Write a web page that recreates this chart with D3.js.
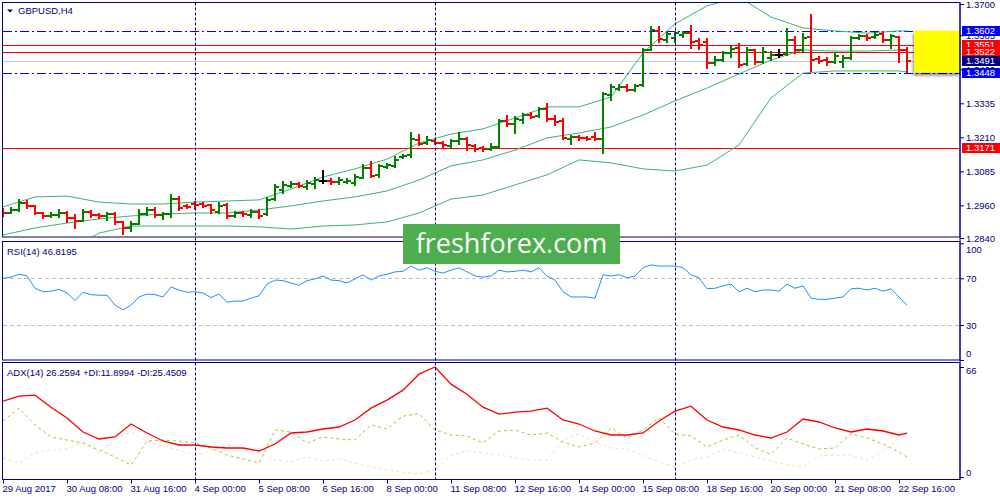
<!DOCTYPE html>
<html>
<head>
<meta charset="utf-8">
<script src="https://cdn.jsdelivr.net/npm/d3@7"></script>
<style>
  html, body { margin: 0; padding: 0; background: #fff; }
  svg { display: block; }
  text { font-family: Tahoma, 'Liberation Sans', Arial, sans-serif; font-size: 9.5px; fill: #000080; }
</style>
</head>
<body>
<div id="chart"></div>
<script>
// GBPUSD H4 chart - bars + Bollinger bands, RSI(14) and ADX(14) panels

// ---- data ----
const xLabels = ['29 Aug 2017', '30 Aug 08:00', '31 Aug 16:00', '4 Sep 00:00', '5 Sep 08:00',
  '6 Sep 16:00', '8 Sep 00:00', '11 Sep 08:00', '12 Sep 16:00', '14 Sep 00:00',
  '15 Sep 08:00', '18 Sep 16:00', '20 Sep 00:00', '21 Sep 08:00', '22 Sep 16:00'];
const xLabelIdx = [0, 8, 16, 24, 32, 40, 48, 56, 64, 72, 80, 88, 96, 104, 112];
const separatorIdx = [24, 54, 84]; // week starts

const opens = [1.2939, 1.2932, 1.2943, 1.2969, 1.2958, 1.2932, 1.2921, 1.2925, 1.2932, 1.2913,
  1.2903, 1.2936, 1.2925, 1.2921, 1.2928, 1.2899, 1.2877, 1.2892, 1.2928, 1.2943,
  1.2925, 1.2928, 1.2983, 1.2958, 1.2965, 1.2965, 1.2961, 1.2936, 1.2961, 1.2921,
  1.2932, 1.2925, 1.2936, 1.2928, 1.2983, 1.3016, 1.3031, 1.3039, 1.3027, 1.3039,
  1.3050, 1.3050, 1.3046, 1.3046, 1.3042, 1.3061, 1.3097, 1.3072, 1.3101, 1.3105,
  1.3138, 1.3145, 1.3200, 1.3189, 1.3197, 1.3189, 1.3178, 1.3197, 1.3204, 1.3178,
  1.3171, 1.3167, 1.3174, 1.3270, 1.3259, 1.3274, 1.3292, 1.3288, 1.3314, 1.3277,
  1.3270, 1.3204, 1.3211, 1.3208, 1.3211, 1.3204, 1.3366, 1.3388, 1.3395, 1.3384,
  1.3402, 1.3531, 1.3601, 1.3568, 1.3575, 1.3586, 1.3593, 1.3564, 1.3560, 1.3483,
  1.3494, 1.3520, 1.3538, 1.3480, 1.3531, 1.3487, 1.3502, 1.3513, 1.3516, 1.3568,
  1.3531, 1.3579, 1.3498, 1.3494, 1.3487, 1.3487, 1.3502, 1.3575, 1.3582, 1.3579,
  1.3590, 1.3568, 1.3579, 1.3531];
const highs = [1.2947, 1.2950, 1.2980, 1.2976, 1.2958, 1.2932, 1.2932, 1.2943, 1.2936, 1.2925,
  1.2943, 1.2939, 1.2928, 1.2932, 1.2932, 1.2899, 1.2899, 1.2943, 1.2950, 1.2950,
  1.2932, 1.2998, 1.2991, 1.2961, 1.2972, 1.2969, 1.2961, 1.2969, 1.2965, 1.2936,
  1.2936, 1.2943, 1.2943, 1.2987, 1.3035, 1.3046, 1.3046, 1.3042, 1.3050, 1.3061,
  1.3086, 1.3057, 1.3061, 1.3057, 1.3072, 1.3108, 1.3119, 1.3108, 1.3112, 1.3138,
  1.3145, 1.3226, 1.3219, 1.3211, 1.3200, 1.3193, 1.3200, 1.3226, 1.3208, 1.3182,
  1.3174, 1.3185, 1.3274, 1.3288, 1.3285, 1.3296, 1.3299, 1.3318, 1.3333, 1.3288,
  1.3277, 1.3215, 1.3215, 1.3211, 1.3226, 1.3373, 1.3402, 1.3402, 1.3402, 1.3402,
  1.3535, 1.3615, 1.3615, 1.3597, 1.3597, 1.3597, 1.3619, 1.3571, 1.3571, 1.3505,
  1.3524, 1.3542, 1.3553, 1.3538, 1.3531, 1.3538, 1.3524, 1.3531, 1.3608, 1.3579,
  1.3590, 1.3660, 1.3505, 1.3502, 1.3520, 1.3509, 1.3579, 1.3586, 1.3586, 1.3593,
  1.3597, 1.3586, 1.3579, 1.3538];
const lows = [1.2921, 1.2932, 1.2939, 1.2950, 1.2928, 1.2913, 1.2917, 1.2917, 1.2899, 1.2877,
  1.2903, 1.2917, 1.2913, 1.2906, 1.2892, 1.2855, 1.2866, 1.2892, 1.2925, 1.2917,
  1.2910, 1.2917, 1.2943, 1.2950, 1.2947, 1.2954, 1.2932, 1.2932, 1.2913, 1.2917,
  1.2921, 1.2917, 1.2913, 1.2925, 1.2980, 1.3005, 1.3027, 1.3027, 1.3020, 1.3024,
  1.3042, 1.3039, 1.3039, 1.3042, 1.3035, 1.3061, 1.3064, 1.3064, 1.3097, 1.3101,
  1.3134, 1.3138, 1.3182, 1.3185, 1.3185, 1.3171, 1.3171, 1.3185, 1.3163, 1.3160,
  1.3160, 1.3163, 1.3171, 1.3252, 1.3226, 1.3263, 1.3281, 1.3285, 1.3270, 1.3255,
  1.3204, 1.3185, 1.3200, 1.3200, 1.3200, 1.3152, 1.3347, 1.3384, 1.3380, 1.3380,
  1.3399, 1.3531, 1.3560, 1.3560, 1.3560, 1.3579, 1.3538, 1.3535, 1.3465, 1.3476,
  1.3491, 1.3505, 1.3468, 1.3476, 1.3480, 1.3483, 1.3494, 1.3505, 1.3513, 1.3520,
  1.3524, 1.3454, 1.3483, 1.3476, 1.3483, 1.3468, 1.3498, 1.3571, 1.3568, 1.3575,
  1.3560, 1.3538, 1.3487, 1.3450];
const closes = [1.2932, 1.2943, 1.2969, 1.2958, 1.2932, 1.2921, 1.2925, 1.2932, 1.2913, 1.2903,
  1.2936, 1.2925, 1.2921, 1.2928, 1.2899, 1.2877, 1.2892, 1.2928, 1.2943, 1.2925,
  1.2928, 1.2983, 1.2950, 1.2954, 1.2961, 1.2958, 1.2943, 1.2958, 1.2921, 1.2932,
  1.2928, 1.2936, 1.2921, 1.2980, 1.3027, 1.3035, 1.3039, 1.3031, 1.3042, 1.3053,
  1.3050, 1.3046, 1.3053, 1.3050, 1.3064, 1.3097, 1.3068, 1.3105, 1.3108, 1.3127,
  1.3141, 1.3204, 1.3185, 1.3200, 1.3189, 1.3182, 1.3197, 1.3204, 1.3182, 1.3167,
  1.3167, 1.3174, 1.3270, 1.3259, 1.3277, 1.3292, 1.3285, 1.3314, 1.3277, 1.3266,
  1.3208, 1.3211, 1.3208, 1.3204, 1.3204, 1.3369, 1.3395, 1.3395, 1.3384, 1.3399,
  1.3531, 1.3604, 1.3571, 1.3590, 1.3593, 1.3593, 1.3560, 1.3549, 1.3483, 1.3494,
  1.3520, 1.3535, 1.3476, 1.3531, 1.3487, 1.3524, 1.3513, 1.3513, 1.3568, 1.3531,
  1.3575, 1.3494, 1.3491, 1.3487, 1.3509, 1.3502, 1.3575, 1.3582, 1.3575, 1.3586,
  1.3568, 1.3582, 1.3531, 1.3491];

// Bollinger bands, read every 4th bar
const bbIdx = [0, 4, 8, 12, 16, 20, 24, 28, 32, 36, 40, 44, 48, 52, 56, 60, 64, 68, 72, 76,
  80, 84, 88, 92, 96, 100, 104, 108, 112, 113];
const bbUpper = [1.2954, 1.2991, 1.2994, 1.2972, 1.2965, 1.2965, 1.2972, 1.2976, 1.2980, 1.3020,
  1.3064, 1.3094, 1.3130, 1.3189, 1.3222, 1.3241, 1.3281, 1.3322, 1.3322, 1.3358,
  1.3520, 1.3627, 1.3693, 1.3726, 1.3652, 1.3612, 1.3601, 1.3593, 1.3601, 1.3601];
const bbMid = [1.2851, 1.2877, 1.2895, 1.2910, 1.2921, 1.2928, 1.2932, 1.2932, 1.2943, 1.2958,
  1.2976, 1.2991, 1.3013, 1.3053, 1.3105, 1.3127, 1.3163, 1.3208, 1.3226, 1.3248,
  1.3292, 1.3344, 1.3391, 1.3443, 1.3494, 1.3531, 1.3527, 1.3527, 1.3531, 1.3531];
const bbLower = [1.2748, 1.2756, 1.2796, 1.2858, 1.2884, 1.2884, 1.2884, 1.2884, 1.2881, 1.2873,
  1.2884, 1.2888, 1.2899, 1.2932, 1.2983, 1.2998, 1.3035, 1.3072, 1.3127, 1.3116,
  1.3094, 1.3086, 1.3108, 1.3182, 1.3355, 1.3446, 1.3454, 1.3454, 1.3454, 1.3450];

const rsiValues = [70, 71, 73.5, 72, 61.5, 58.5, 59, 60.5, 57.5, 51,
  58, 56, 55.5, 55.5, 47, 43, 47, 54, 56.5, 56,
  54, 62.5, 60, 58, 58.5, 57.5, 53.5, 56.5, 49.5, 50.5,
  50.5, 53, 55, 65, 68.5, 68, 66, 64, 68, 69.5,
  72, 68.5, 68, 66, 69.5, 73, 68.5, 72, 73.5, 75.5,
  76, 80.5, 77, 79, 76, 74.5, 77, 79, 75.5, 72,
  71, 72, 77, 75.5, 76, 77, 75.5, 79, 72, 68.5,
  58.5, 54, 54, 54, 53, 73, 72, 73, 70.5, 72,
  79, 81.5, 80.5, 80.5, 80.5, 79, 73, 70.5, 61, 61.5,
  63.5, 65, 58.5, 61.5, 58.5, 60, 60, 59, 65, 61.5,
  63.5, 53, 52, 52, 53, 54, 61, 61.5, 60, 61.5,
  59, 61, 54, 46.8195];

// ADX lines, read every 2nd bar
const adxIdx = [0, 2, 4, 6, 8, 10, 12, 14, 16, 18, 20, 22, 24, 26, 28, 30, 32, 34, 36, 38,
  40, 42, 44, 46, 48, 50, 52, 54, 56, 58, 60, 62, 64, 66, 68, 70, 72, 74, 76, 78,
  80, 82, 84, 86, 88, 90, 92, 94, 96, 98, 100, 102, 104, 106, 108, 110, 112, 113];
const adxMain = [45.5, 48.5, 49.1, 41.9, 35.4, 27.0, 22.8, 24.0, 31.8, 26.4,
  21.6, 19.2, 19.2, 18.0, 17.4, 17.4, 15.6, 19.8, 26.4, 27.0,
  28.8, 30.0, 34.2, 41.3, 46.1, 52.1, 61.7, 66.0, 55.7, 49.7,
  41.9, 37.7, 38.9, 39.5, 41.3, 34.2, 31.8, 27.6, 25.2, 25.2,
  26.4, 33.6, 39.5, 42.5, 34.2, 30.0, 28.2, 25.2, 23.4, 27.0,
  34.8, 33.0, 29.4, 27.0, 28.8, 27.6, 25.2, 26.2594];
const plusDi = [33.6, 41.3, 31.2, 24.0, 22.2, 20.4, 16.2, 12.0, 7.2, 21.6,
  22.2, 21.6, 20.4, 17.4, 13.2, 10.8, 8.4, 28.2, 27.0, 20.4,
  24.0, 22.8, 22.2, 31.2, 28.8, 36.5, 38.0, 28.2, 25.2, 24.6,
  20.4, 27.6, 28.2, 25.2, 26.4, 21.0, 18.0, 20.4, 29.4, 23.4,
  28.2, 35.4, 25.8, 24.6, 18.0, 22.2, 25.2, 17.4, 13.8, 23.4,
  19.8, 16.8, 17.4, 25.8, 23.4, 19.8, 15.0, 11.8994];
const minusDi = [11.4, 8.4, 14.4, 16.2, 16.8, 21.0, 14.4, 22.2, 27.0, 21.6,
  18.6, 16.2, 13.2, 15.6, 19.2, 16.8, 14.4, 10.2, 9.0, 12.0,
  9.6, 10.8, 8.4, 6.0, 4.2, 3.0, 1.8, 4.2, 13.2, 15.6,
  14.4, 13.2, 11.4, 10.2, 10.2, 22.2, 25.8, 21.0, 17.4, 16.8,
  13.2, 9.0, 6.0, 10.2, 12.0, 16.8, 14.4, 12.0, 9.6, 7.2,
  6.0, 12.6, 13.2, 13.2, 10.2, 15.6, 23.4, 25.4509];

const priceTicks = [1.3700, 1.3585, 1.3460, 1.3335, 1.3210, 1.3085, 1.2960, 1.2840];
const rsiTicks = [100, 70, 30, 0];
const rsiLevels = [70, 30];
const adxTicks = [66, 0];
const dashDotLevels = [1.3602, 1.3448];
const redLevels = [1.3551, 1.3522, 1.3171];
const bidPrice = 1.3491;
const zoneFrom = 113.875; // yellow box starts just after the last bar

// ---- layout ----
const W = 1000, H = 500;
const AXIS_X = 960;
const LEFT = 2.5;
const PANELS = {
  main: { top: 2.5, bottom: 237 },
  rsi: { top: 241.5, bottom: 360 },
  adx: { top: 362.5, bottom: 479.5 }
};
const NAVY = '#000080';

const svg = d3.select('#chart').append('svg')
  .attr('width', W)
  .attr('height', H);

const x = d3.scaleLinear().domain([0, 113]).range([3, 907]);
const yPrice = d3.scaleLinear().domain([1.2840, 1.3700]).range([238, 4]);
const yRsi = d3.scaleLinear().domain([0, 100]).range([360, 243.3]);
const yAdx = d3.scaleLinear().domain([0, 66]).range([477, 367]);

// clip each panel to its frame
const defs = svg.append('defs');
Object.entries(PANELS).forEach(([key, p]) => {
  defs.append('clipPath').attr('id', 'clip-' + key)
    .append('rect')
    .attr('x', 3).attr('y', p.top + 0.5)
    .attr('width', AXIS_X - 3).attr('height', p.bottom - p.top - 1);
});
const shadow = defs.append('filter').attr('id', 'shadow')
  .attr('x', '-20%').attr('y', '-20%').attr('width', '150%').attr('height', '150%');
shadow.append('feDropShadow')
  .attr('dx', -1).attr('dy', 3).attr('stdDeviation', 1.5)
  .attr('flood-color', '#000').attr('flood-opacity', 0.45);

// ---- main panel ----
const mainG = svg.append('g').attr('clip-path', 'url(#clip-main)');

function hLine(g, y, color, dash) {
  g.append('line')
    .attr('x1', 3).attr('x2', AXIS_X)
    .attr('y1', Math.round(y) + 0.5).attr('y2', Math.round(y) + 0.5)
    .attr('stroke', color)
    .attr('stroke-width', 1)
    .attr('stroke-dasharray', dash || null);
}

hLine(mainG, yPrice(bidPrice), '#c8c8c8');
redLevels.forEach(p => hLine(mainG, yPrice(p), '#ff0000'));
dashDotLevels.forEach(p => hLine(mainG, yPrice(p), '#0000ff', '9,3,2,3'));

// Bollinger bands
const bandLine = d3.line()
  .x((d, k) => x(bbIdx[k]))
  .y(d => yPrice(d));
mainG.selectAll('path.band')
  .data([bbUpper, bbMid, bbLower])
  .join('path')
  .attr('class', 'band')
  .attr('d', bandLine)
  .attr('fill', 'none')
  .attr('stroke', '#3cb371')
  .attr('stroke-width', 1);

// OHLC bars
const bars = opens.map((o, i) => ({ i, o, h: highs[i], l: lows[i], c: closes[i] }));
const barColor = d => d.c > d.o ? '#008000' : (d.c < d.o ? '#ff0000' : '#000000');
const barG = mainG.append('g').attr('shape-rendering', 'crispEdges');
const bar = barG.selectAll('g.bar')
  .data(bars)
  .join('g')
  .attr('class', 'bar')
  .attr('stroke', barColor)
  .attr('stroke-width', 2);
bar.append('line')
  .attr('x1', d => x(d.i)).attr('x2', d => x(d.i))
  .attr('y1', d => Math.round(yPrice(d.h)) - 1)
  .attr('y2', d => Math.round(yPrice(d.l)) + 1);
bar.append('line')
  .attr('x1', d => x(d.i) - 4).attr('x2', d => x(d.i))
  .attr('y1', d => Math.round(yPrice(d.o))).attr('y2', d => Math.round(yPrice(d.o)));
bar.append('line')
  .attr('x1', d => x(d.i)).attr('x2', d => x(d.i) + 4)
  .attr('y1', d => Math.round(yPrice(d.c))).attr('y2', d => Math.round(yPrice(d.c)));

// yellow zone between the two dash-dot levels
svg.append('rect')
  .attr('x', x(zoneFrom))
  .attr('y', yPrice(dashDotLevels[0]))
  .attr('width', AXIS_X - x(zoneFrom))
  .attr('height', yPrice(dashDotLevels[1]) - yPrice(dashDotLevels[0]))
  .attr('fill', '#ffff00')
  .attr('filter', 'url(#shadow)');

// ---- RSI panel ----
const rsiG = svg.append('g').attr('clip-path', 'url(#clip-rsi)');
rsiLevels.forEach(v => hLine(rsiG, yRsi(v), '#c0c0c0', '4,3'));
rsiG.append('path')
  .datum(rsiValues)
  .attr('d', d3.line().x((d, i) => x(i)).y(d => yRsi(d)))
  .attr('fill', 'none')
  .attr('stroke', '#1e90ff')
  .attr('stroke-width', 1);

// ---- ADX panel ----
const adxG = svg.append('g').attr('clip-path', 'url(#clip-adx)');
const adxLine = d3.line().x((d, k) => x(adxIdx[k])).y(d => yAdx(d));
adxG.append('path').datum(minusDi).attr('d', adxLine)
  .attr('fill', 'none').attr('stroke', '#f5deb3').attr('stroke-dasharray', '3,3');
adxG.append('path').datum(plusDi).attr('d', adxLine)
  .attr('fill', 'none').attr('stroke', '#9acd32').attr('stroke-dasharray', '3,3');
adxG.append('path').datum(adxMain).attr('d', adxLine)
  .attr('fill', 'none').attr('stroke', '#ff0000').attr('stroke-width', 1.3);

// ---- period separators ----
svg.append('g')
  .selectAll('line')
  .data(separatorIdx)
  .join('line')
  .attr('x1', d => x(d) + 0.5).attr('x2', d => x(d) + 0.5)
  .attr('y1', PANELS.main.top).attr('y2', PANELS.adx.bottom)
  .attr('stroke', NAVY)
  .attr('stroke-dasharray', '3,2');

// ---- frames ----
Object.values(PANELS).forEach(p => {
  svg.append('rect')
    .attr('x', LEFT).attr('y', p.top)
    .attr('width', AXIS_X - LEFT).attr('height', p.bottom - p.top)
    .attr('fill', 'none')
    .attr('stroke', NAVY)
    .attr('stroke-width', 1);
});

// ---- axes ----
function rightAxis(scale, ticks, fmt, minY, maxY) {
  const g = svg.append('g')
    .attr('transform', `translate(${AXIS_X},0)`)
    .attr('color', NAVY)
    .attr('font-size', null)
    .attr('font-family', null)
    .call(d3.axisRight(scale).tickValues(ticks).tickFormat(fmt).tickSize(4).tickPadding(2));
  g.select('.domain').remove();
  // keep edge labels inside their panel
  g.selectAll('.tick text').attr('y', d => {
    const y = scale(d);
    return Math.min(Math.max(y, minY), maxY) - y;
  });
  return g;
}

rightAxis(yPrice, priceTicks, d3.format('.4f'), -100, 1000);
rightAxis(yRsi, rsiTicks, d3.format('d'), 249, 353);
rightAxis(yAdx, adxTicks, d3.format('d'), 370, 472);

// price flags on the axis
const flags = [
  ...dashDotLevels.map(p => ({ p, fill: '#0000ff' })),
  ...redLevels.map(p => ({ p, fill: '#ff0000' })),
  { p: bidPrice, fill: NAVY }
].sort((a, b) => b.p - a.p);
const flagG = svg.append('g');
flags.forEach(f => {
  const y = Math.round(yPrice(f.p));
  flagG.append('rect')
    .attr('x', AXIS_X + 2).attr('y', y - 5)
    .attr('width', W - AXIS_X - 2).attr('height', 10)
    .attr('fill', f.fill);
  flagG.append('text')
    .attr('x', AXIS_X + 6).attr('y', y)
    .attr('dy', '0.35em')
    .style('fill', '#fff')
    .text(d3.format('.4f')(f.p));
});

// time axis
const gx = svg.append('g')
  .attr('transform', `translate(0,${PANELS.adx.bottom})`)
  .attr('color', NAVY)
  .attr('font-size', null)
  .attr('font-family', null)
  .call(d3.axisBottom(x)
    .tickValues(xLabelIdx)
    .tickFormat(d => xLabels[xLabelIdx.indexOf(d)])
    .tickSize(4)
    .tickPadding(2));
gx.select('.domain').remove();
gx.selectAll('.tick text').attr('text-anchor', 'start').attr('x', -1);

// right axis line over everything
svg.append('line')
  .attr('x1', AXIS_X).attr('x2', AXIS_X)
  .attr('y1', PANELS.main.top).attr('y2', PANELS.adx.bottom)
  .attr('stroke', NAVY);

// ---- titles ----
svg.append('path')
  .attr('d', 'M7,9.5 L13,9.5 L10,12.5 Z')
  .attr('fill', NAVY);
svg.append('text').attr('x', 18).attr('y', 14).text('GBPUSD,H4');

const fmt4 = d3.format('.4f');
svg.append('text').attr('x', 7).attr('y', 255)
  .text(`RSI(14) ${fmt4(rsiValues[rsiValues.length - 1])}`);
svg.append('text').attr('x', 7).attr('y', 375.5)
  .text(`ADX(14) ${fmt4(adxMain[adxMain.length - 1])} +DI:${fmt4(plusDi[plusDi.length - 1])} -DI:${fmt4(minusDi[minusDi.length - 1])}`);

// ---- watermark ----
svg.append('rect')
  .attr('x', 403).attr('y', 224)
  .attr('width', 217).attr('height', 40)
  .attr('fill', '#4cae4f');
svg.append('text')
  .attr('x', 511.5).attr('y', 253)
  .attr('text-anchor', 'middle')
  .style('font-family', "'Open Sans', 'Liberation Sans', sans-serif")
  .style('font-size', '27px')
  .style('fill', '#fff')
  .text('freshforex.com');
</script>
</body>
</html>
